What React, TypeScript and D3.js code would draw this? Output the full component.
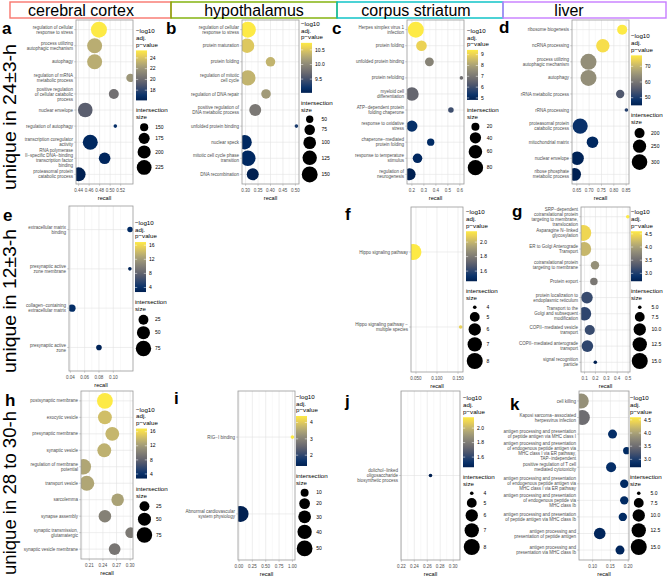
import React from 'react';
import * as d3 from 'd3';

const FONT = '"Liberation Sans", Arial, Helvetica, sans-serif';
const R0 = 1.8;
const R1 = 8;

// column headers and row labels
const tissues = ['cerebral cortex', 'hypothalamus', 'corpus striatum', 'liver'];
const tissueColors = ['#F8766D', '#7CAE00', '#00BFC4', '#C77CFF'];
const rowLabels = ['unique in 24±3-h', 'unique in 12±3-h', 'unique in 28 to 30-h'];

// ---------- a: cerebral cortex, 24±3 h
const aTerms = [
  'regulation of cellular\nresponse to stress',
  'process utilizing\nautophagic mechanism',
  'autophagy',
  'regulation of mRNA\nmetabolic process',
  'positive regulation\nof cellular catabolic\nprocess',
  'nuclear envelope',
  'regulation of autophagy',
  'transcription coregulator\nactivity',
  'RNA polymerase\nII−specific DNA−binding\ntranscription factor\nbinding',
  'proteasomal protein\ncatabolic process',
];
const aRecall = [0.4787, 0.4705, 0.4705, 0.5385, 0.507, 0.4527, 0.5098, 0.4622, 0.4895, 0.44];
const aSize = [245, 228, 228, 151, 164, 222, 135, 228, 181, 212];
const aLogP = [25.4, 23.0, 23.0, 22.0, 20.2, 19.3, 16.9, 16.5, 16.4, 16.1];
const aXTicks = [0.44, 0.46, 0.48, 0.5, 0.52];
const aColorLimits = [16.1, 25.4];
const aColorTicks = [18, 20, 22, 24];
const aSizeLimits = [135, 245];
const aSizeBreaks = [150, 175, 200, 225];

// ---------- b: hypothalamus, 24±3 h
const bTerms = [
  'regulation of cellular\nresponse to stress',
  'protein maturation',
  'protein folding',
  'regulation of mitotic\ncell cycle',
  'regulation of DNA repair',
  'positive regulation of\nDNA metabolic process',
  'unfolded protein binding',
  'nuclear speck',
  'mitotic cell cycle phase\ntransition',
  'DNA recombination',
];
const bRecall = [0.309, 0.306, 0.4, 0.309, 0.382, 0.3387, 0.504, 0.296, 0.309, 0.3287];
const bSize = [152, 125, 66, 141, 66, 91, 40, 125, 141, 91];
const bLogP = [10.74, 10.5, 10.35, 10.35, 10.15, 9.85, 9.3, 9.1, 9.1, 9.03];
const bXTicks = [0.3, 0.35, 0.4, 0.45, 0.5];
const bColorLimits = [9.03, 10.74];
const bColorTicks = [9.5, 10.0, 10.5];
const bSizeLimits = [40, 152];
const bSizeBreaks = [50, 75, 100, 125, 150];

// ---------- c: corpus striatum, 24±3 h
const cTerms = [
  'Herpes simplex virus 1\ninfection',
  'protein folding',
  'unfolded protein binding',
  'protein refolding',
  'myeloid cell\ndifferentiation',
  'ATP−dependent protein\nfolding chaperone',
  'response to oxidative\nstress',
  'chaperone−mediated\nprotein folding',
  'response to temperature\nstimulus',
  'regulation of\nneurogenesis',
];
const cRecall = [0.233, 0.28, 0.346, 0.613, 0.2, 0.5255, 0.2, 0.357, 0.247, 0.181];
const cSize = [88, 35, 24, 10, 61, 12, 39, 17, 28, 46];
const cLogP = [9.44, 9.0, 7.3, 6.8, 6.6, 6.0, 5.2, 5.1, 5.0, 4.82];
const cXTicks = [0.2, 0.3, 0.4, 0.5, 0.6];
const cColorLimits = [4.82, 9.44];
const cColorTicks = [5, 6, 7, 8, 9];
const cSizeLimits = [10, 88];
const cSizeBreaks = [20, 40, 60, 80];

// ---------- d: liver, 24±3 h
const dTerms = [
  'ribosome biogenesis',
  'ncRNA processing',
  'process utilizing\nautophagic mechanism',
  'autophagy',
  'rRNA metabolic process',
  'rRNA processing',
  'proteasomal protein\ncatabolic process',
  'mitochondrial matrix',
  'nuclear envelope',
  'ribose phosphate\nmetabolic process',
];
const dRecall = [0.8338, 0.7554, 0.6973, 0.6973, 0.8257, 0.851, 0.6635, 0.7135, 0.6514, 0.641];
const dSize = [200, 254, 310, 310, 182, 160, 291, 222, 254, 243];
const dLogP = [77, 75.5, 64, 64, 55, 51, 48, 46.5, 45.5, 45.1];
const dXTicks = [0.65, 0.7, 0.75, 0.8, 0.85];
const dColorLimits = [45.1, 77];
const dColorTicks = [50, 60, 70];
const dSizeLimits = [160, 310];
const dSizeBreaks = [200, 250, 300];

// ---------- shared scales of the 12 h and 28-30 h rows
const ehColorLimits = [2.7, 16.9];
const ehColorTicks = [4, 8, 12, 16];
const ehSizeLimits = [5, 82];
const ehSizeBreaks = [25, 50, 75];
const fjColorLimits = [1.46, 2.15];
const fjColorTicks = [1.6, 1.8, 2.0];
const fjSizeLimits = [4, 8];
const fjSizeBreaks = [4, 5, 6, 7, 8];
const gkColorLimits = [2.7, 4.6];
const gkColorTicks = [3.0, 3.5, 4.0, 4.5];
const gkSizeLimits = [5, 15];
const gkSizeBreaks = [5, 7.5, 10, 12.5, 15];

// ---------- e: cerebral cortex, 12±3 h
const eTerms = [
  'extracellular matrix\nbinding',
  'presynaptic active\nzone membrane',
  'collagen−containing\nextracellular matrix',
  'presynaptic active\nzone',
];
const eRecall = [0.1235, 0.1232, 0.0422, 0.08];
const eSize = [7, 5, 12, 7];
const eLogP = [3.5, 2.9, 3.8, 2.9];
const eXTicks = [0.04, 0.06, 0.08, 0.1];

// ---------- f: corpus striatum, 12±3 h
const fTerms = ['Hippo signaling pathway', 'Hippo signaling pathway −\nmultiple species'];
const fRecall = [0.0438, 0.1562];
const fSize = [8, 4];
const fLogP = [2.15, 2.08];
const fXTicks = [0.05, 0.1, 0.15];

// ---------- g: liver, 12±3 h
const gTerms = [
  'SRP−dependent\ncotranslational protein\ntargeting to membrane,\ntranslocation',
  'Asparagine N−linked\nglycosylation',
  'ER to Golgi Anterograde\nTransport',
  'cotranslational protein\ntargeting to membrane',
  'Protein export',
  'protein localization to\nendoplasmic reticulum',
  'Transport to the\nGolgi and subsequent\nmodification',
  'COPII−mediated vesicle\ntransport',
  'COPII−mediated anterograde\ntransport',
  'signal recognition\nparticle',
];
const gRecall = [0.497, 0.088, 0.097, 0.196, 0.186, 0.122, 0.1, 0.148, 0.126, 0.199];
const gSize = [5, 15, 12, 6.5, 6, 9.2, 11.2, 7.7, 9.2, 5];
const gLogP = [4.6, 4.45, 4.2, 3.85, 3.6, 3.15, 3.1, 3.15, 3.1, 2.7];
const gXTicks = [0.1, 0.2, 0.3, 0.4, 0.5];

// ---------- h: cerebral cortex, 28 to 30 h
const hTerms = [
  'postsynaptic membrane',
  'exocytic vesicle',
  'presynaptic membrane',
  'synaptic vesicle',
  'regulation of membrane\npotential',
  'transport vesicle',
  'sarcolemma',
  'synapse assembly',
  'synaptic transmission,\nglutamatergic',
  'synaptic vesicle membrane',
];
const hRecall = [0.2444, 0.2444, 0.2606, 0.243, 0.197, 0.2045, 0.2724, 0.2444, 0.301, 0.2658];
const hSize = [80, 58, 58, 58, 75, 70, 45, 45, 30, 38];
const hLogP = [16.9, 14.3, 13.8, 13.5, 12.8, 12.8, 12.5, 10.2, 9.6, 9.3];
const hXTicks = [0.21, 0.24, 0.27, 0.3];

// ---------- i: hypothalamus, 28 to 30 h
const iTerms = ['RIG−I binding', 'Abnormal cardiovascular\nsystem physiology'];
const iRecall = [1.0, 0.03];
const iSize = [4, 52];
const iLogP = [4.4, 1.34];
const iXTicks = [0, 0.25, 0.5, 0.75, 1.0];
const iColorLimits = [1.34, 4.4];
const iColorTicks = [2, 3, 4];
const iSizeLimits = [4, 52];
const iSizeBreaks = [10, 20, 30, 40, 50];

// ---------- j: corpus striatum, 28 to 30 h
const jTerms = ['dolichol−linked\noligosaccharide\nbiosynthetic process'];
const jRecall = [0.265];
const jSize = [4];
const jLogP = [1.46];
const jXTicks = [0.22, 0.24, 0.26, 0.28, 0.3];
const jXLimits = [0.2195, 0.3105];

// ---------- k: liver, 28 to 30 h
const kTerms = [
  'cell killing',
  'Kaposi sarcoma−associated\nherpesvirus infection',
  'antigen processing and presentation\nof peptide antigen via MHC class I',
  'antigen processing and presentation\nof endogenous peptide antigen via\nMHC class I via ER pathway,\nTAP−independent',
  'positive regulation of T cell\nmediated cytotoxicity',
  'antigen processing and presentation\nof endogenous peptide antigen via\nMHC class I via ER pathway',
  'antigen processing and presentation\nof endogenous peptide via\nMHC class Ib',
  'antigen processing and presentation\nof peptide antigen via MHC class Ib',
  'antigen processing and\npresentation of peptide antigen',
  'antigen processing and\npresentation via MHC class Ib',
];
const kRecall = [0.068, 0.071, 0.156, 0.196, 0.152, 0.189, 0.189, 0.185, 0.12, 0.177];
const kSize = [13.5, 13.5, 6.9, 5.9, 7.7, 6.5, 6.5, 6.5, 9.2, 6.9];
const kLogP = [3.85, 3.5, 2.85, 2.8, 2.85, 2.8, 2.8, 2.8, 2.75, 2.75];
const kXTicks = [0.1, 0.15, 0.2];

type Spec = {
  id: string;
  terms: string[];
  recall: number[];
  size: number[];
  logp: number[];
  xTicks: number[];
  xFmt: string;
  xLimits?: number[];
  colorLimits: number[];
  colorTicks: number[];
  colorFmt: string;
  sizeLimits: number[];
  sizeBreaks: number[];
  sizeFmt: string;
  box: number[]; // plot rect x0, x1, y0, y1
  legendX: number;
  letterAt: number[];
};

const panels: Spec[] = [
  { id: 'a', terms: aTerms, recall: aRecall, size: aSize, logp: aLogP, xTicks: aXTicks, xFmt: '.2f',
    colorLimits: aColorLimits, colorTicks: aColorTicks, colorFmt: 'd', sizeLimits: aSizeLimits, sizeBreaks: aSizeBreaks, sizeFmt: 'd',
    box: [76, 133, 20, 184], legendX: 136, letterAt: [2, 34] },
  { id: 'b', terms: bTerms, recall: bRecall, size: bSize, logp: bLogP, xTicks: bXTicks, xFmt: '.2f',
    colorLimits: bColorLimits, colorTicks: bColorTicks, colorFmt: '.1f', sizeLimits: bSizeLimits, sizeBreaks: bSizeBreaks, sizeFmt: 'd',
    box: [242, 299, 20, 184], legendX: 301, letterAt: [166, 34] },
  { id: 'c', terms: cTerms, recall: cRecall, size: cSize, logp: cLogP, xTicks: cXTicks, xFmt: '.1f',
    colorLimits: cColorLimits, colorTicks: cColorTicks, colorFmt: 'd', sizeLimits: cSizeLimits, sizeBreaks: cSizeBreaks, sizeFmt: 'd',
    box: [407, 464, 20, 184], legendX: 467, letterAt: [332, 34] },
  { id: 'd', terms: dTerms, recall: dRecall, size: dSize, logp: dLogP, xTicks: dXTicks, xFmt: '.2f',
    colorLimits: dColorLimits, colorTicks: dColorTicks, colorFmt: 'd', sizeLimits: dSizeLimits, sizeBreaks: dSizeBreaks, sizeFmt: 'd',
    box: [572, 629, 20, 184], legendX: 631, letterAt: [499, 33] },
  { id: 'e', terms: eTerms, recall: eRecall, size: eSize, logp: eLogP, xTicks: eXTicks, xFmt: '.2f',
    colorLimits: ehColorLimits, colorTicks: ehColorTicks, colorFmt: 'd', sizeLimits: ehSizeLimits, sizeBreaks: ehSizeBreaks, sizeFmt: 'd',
    box: [69, 133, 206, 371], legendX: 135, letterAt: [3, 221] },
  { id: 'f', terms: fTerms, recall: fRecall, size: fSize, logp: fLogP, xTicks: fXTicks, xFmt: '.3f',
    colorLimits: fjColorLimits, colorTicks: fjColorTicks, colorFmt: '.1f', sizeLimits: fjSizeLimits, sizeBreaks: fjSizeBreaks, sizeFmt: 'd',
    box: [411, 463, 207, 372], legendX: 466, letterAt: [345, 220] },
  { id: 'g', terms: gTerms, recall: gRecall, size: gSize, logp: gLogP, xTicks: gXTicks, xFmt: '.1f',
    colorLimits: gkColorLimits, colorTicks: gkColorTicks, colorFmt: '.1f', sizeLimits: gkSizeLimits, sizeBreaks: gkSizeBreaks, sizeFmt: '.1f',
    box: [581, 630, 207, 372], legendX: 631, letterAt: [512, 217] },
  { id: 'h', terms: hTerms, recall: hRecall, size: hSize, logp: hLogP, xTicks: hXTicks, xFmt: '.2f',
    colorLimits: ehColorLimits, colorTicks: ehColorTicks, colorFmt: 'd', sizeLimits: ehSizeLimits, sizeBreaks: ehSizeBreaks, sizeFmt: 'd',
    box: [81, 133, 391, 559], legendX: 136, letterAt: [5, 406] },
  { id: 'i', terms: iTerms, recall: iRecall, size: iSize, logp: iLogP, xTicks: iXTicks, xFmt: '.2f',
    colorLimits: iColorLimits, colorTicks: iColorTicks, colorFmt: 'd', sizeLimits: iSizeLimits, sizeBreaks: iSizeBreaks, sizeFmt: 'd',
    box: [238, 295, 391, 560], legendX: 296, letterAt: [174, 404] },
  { id: 'j', terms: jTerms, recall: jRecall, size: jSize, logp: jLogP, xTicks: jXTicks, xFmt: '.2f', xLimits: jXLimits,
    colorLimits: fjColorLimits, colorTicks: fjColorTicks, colorFmt: '.1f', sizeLimits: fjSizeLimits, sizeBreaks: fjSizeBreaks, sizeFmt: 'd',
    box: [401, 460, 391, 560], legendX: 463, letterAt: [345, 407] },
  { id: 'k', terms: kTerms, recall: kRecall, size: kSize, logp: kLogP, xTicks: kXTicks, xFmt: '.2f',
    colorLimits: gkColorLimits, colorTicks: gkColorTicks, colorFmt: '.1f', sizeLimits: gkSizeLimits, sizeBreaks: gkSizeBreaks, sizeFmt: '.1f',
    box: [579, 629, 391, 560], legendX: 630, letterAt: [510, 410] },
];

function BubblePanel({ p }: { p: Spec }) {
  const [x0, x1, y0, y1] = p.box;
  const [lo, hi] = d3.extent(p.recall) as [number, number];
  const pad = (hi - lo) * 0.05;
  const xDom = p.xLimits ?? [lo - pad, hi + pad];
  const x = d3.scaleLinear().domain(xDom).range([x0, x1]);
  const y = d3.scalePoint<string>().domain(p.terms).range([y0, y1]).padding(0.6);
  const color = d3.scaleSequential(d3.interpolateCividis).domain(p.colorLimits as [number, number]);
  const area = d3.scaleLinear().domain(p.sizeLimits).range([0, 1]).clamp(true);
  const rad = (v: number) => R0 + (R1 - R0) * Math.sqrt(area(v));
  const xFmt = d3.format(p.xFmt);

  const step = p.xTicks[1] - p.xTicks[0];
  const minor = d3.range(p.xTicks[0] - step / 2, xDom[1], step).filter(v => v >= xDom[0] && v <= xDom[1]);

  // legend layout, centred on the panel
  const lx = p.legendX;
  const keyR = p.sizeBreaks.map(rad);
  const keyH = keyR.map(r => Math.max(2 * r + 1.5, 8));
  const total = 94 + d3.sum(keyH);
  const T = (y0 + y1) / 2 - total / 2;
  const barTop = T + 22;
  const barH = 50;
  const barW = 11;
  const cbar = d3.scaleLinear().domain(p.colorLimits).range([barTop + barH, barTop]);
  const keyW = Math.max(2 * d3.max(keyR)! + 1.5, 11);
  let acc = T + 94;
  const keyY = keyH.map(h => { const c = acc + h / 2; acc += h; return c; });
  const gradStops = d3.range(0, 1.0001, 0.1);

  return (
    <g>
      <defs>
        <clipPath id={`clip-${p.id}`}>
          <rect x={x0} y={y0} width={x1 - x0} height={y1 - y0} />
        </clipPath>
        <linearGradient id={`grad-${p.id}`} x1="0" y1="1" x2="0" y2="0">
          {gradStops.map(t => (
            <stop key={t} offset={t} stopColor={d3.interpolateCividis(t)} />
          ))}
        </linearGradient>
      </defs>
      <rect x={x0} y={y0} width={x1 - x0} height={y1 - y0} fill="#fff" />
      {minor.map(v => (
        <line key={`m${v}`} x1={x(v)} x2={x(v)} y1={y0} y2={y1} stroke="#EFEFEF" strokeWidth={0.4} />
      ))}
      {p.xTicks.map(v => (
        <line key={`g${v}`} x1={x(v)} x2={x(v)} y1={y0} y2={y1} stroke="#E3E3E3" strokeWidth={0.6} />
      ))}
      {p.terms.map(t => (
        <line key={`h${t}`} x1={x0} x2={x1} y1={y(t)} y2={y(t)} stroke="#E3E3E3" strokeWidth={0.6} />
      ))}
      <g clipPath={`url(#clip-${p.id})`}>
        {p.terms.map((t, i) => (
          <circle key={t} cx={x(p.recall[i])} cy={y(t)!} r={rad(p.size[i])} fill={color(p.logp[i])} />
        ))}
      </g>
      <rect x={x0} y={y0} width={x1 - x0} height={y1 - y0} fill="none" stroke="#9A9A9A" strokeWidth={0.8} />

      {/* y axis labels */}
      {p.terms.map(t => {
        const lines = t.split('\n');
        const yc = y(t)!;
        return (
          <g key={`yl${t}`}>
            <line x1={x0 - 1.8} x2={x0} y1={yc} y2={yc} stroke="#9A9A9A" strokeWidth={0.5} />
            <text x={x0 - 3} y={yc - (lines.length - 1) * 2.5 + 1.6} textAnchor="end" fontSize={4.5} fill="#4D4D4D">
              {lines.map((l, k) => (
                <tspan key={k} x={x0 - 3} dy={k === 0 ? 0 : 5}>{l}</tspan>
              ))}
            </text>
          </g>
        );
      })}

      {/* x axis */}
      {p.xTicks.map(v => (
        <g key={`xt${v}`}>
          <line x1={x(v)} x2={x(v)} y1={y1} y2={y1 + 1.8} stroke="#9A9A9A" strokeWidth={0.5} />
          <text x={x(v)} y={y1 + 8} textAnchor="middle" fontSize={4.5} fill="#4D4D4D">{xFmt(v)}</text>
        </g>
      ))}
      <text x={(x0 + x1) / 2} y={y1 + 16} textAnchor="middle" fontSize={5.6} fill="#000">recall</text>

      {/* colour legend */}
      {['−log10', 'adj.', 'p−value'].map((s, k) => (
        <text key={s} x={lx} y={T + 5 + k * 6.7} fontSize={6.2} fill="#000">{s}</text>
      ))}
      <rect x={lx} y={barTop} width={barW} height={barH} fill={`url(#grad-${p.id})`} />
      {p.colorTicks.map(v => (
        <g key={`ct${v}`}>
          <line x1={lx} x2={lx + 2.2} y1={cbar(v)} y2={cbar(v)} stroke="#fff" strokeWidth={0.5} />
          <line x1={lx + barW - 2.2} x2={lx + barW} y1={cbar(v)} y2={cbar(v)} stroke="#fff" strokeWidth={0.5} />
          <text x={lx + barW + 3} y={cbar(v) + 1.7} fontSize={5} fill="#000">{d3.format(p.colorFmt)(v)}</text>
        </g>
      ))}

      {/* size legend */}
      <text x={lx} y={T + 84} fontSize={6.2} fill="#000">intersection</text>
      <text x={lx} y={T + 91} fontSize={6.2} fill="#000">size</text>
      {p.sizeBreaks.map((b, k) => (
        <g key={`sk${b}`}>
          <circle cx={lx + keyW / 2} cy={keyY[k]} r={keyR[k]} fill="#000" />
          <text x={lx + keyW + 3} y={keyY[k] + 1.7} fontSize={5} fill="#000">{d3.format(p.sizeFmt)(b)}</text>
        </g>
      ))}

      <text x={p.letterAt[0]} y={p.letterAt[1]} fontSize={17} fontWeight="bold" fill="#000">{p.id}</text>
    </g>
  );
}

const headerX = [10, 171, 337, 503, 666];
const headerTextX = [81, 254, 416, 569];
const rowLabelY = [117, 301, 493];
const rowLabelLen = [146, 144, 164];

export default function App() {
  return (
    <svg width={667} height={579} style={{ position: 'absolute', left: 0, top: 0, background: '#fff' }} fontFamily={FONT}>
      <rect width={667} height={579} fill="#fff" />
      {tissues.map((t, i) => (
        <g key={t}>
          <rect x={headerX[i]} y={2} width={headerX[i + 1] - headerX[i]} height={16} fill="none" stroke={tissueColors[i]} strokeWidth={1.4} />
          <text x={headerTextX[i]} y={15.5} textAnchor="middle" fontSize={16} fill="#000">{t}</text>
        </g>
      ))}
      {rowLabels.map((r, i) => (
        <text key={r} transform={`translate(16,${rowLabelY[i]}) rotate(-90)`} textAnchor="middle" fontSize={18}
          textLength={rowLabelLen[i]} lengthAdjust="spacingAndGlyphs" fill="#000">{r}</text>
      ))}
      {panels.map(p => <BubblePanel key={p.id} p={p} />)}
    </svg>
  );
}
